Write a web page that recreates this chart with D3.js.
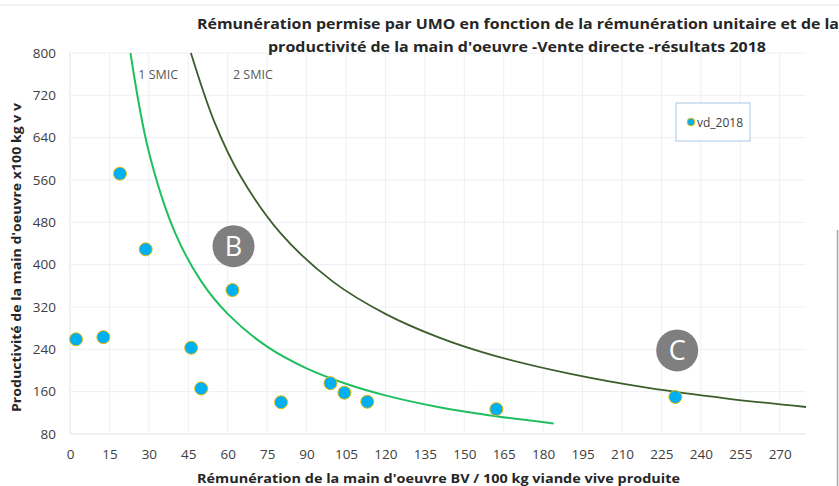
<!DOCTYPE html>
<html>
<head>
<meta charset="utf-8">
<script src="https://cdn.jsdelivr.net/npm/d3@7"></script>
<style>
  body { margin: 0; background: #fff; }
  svg { display: block; font-family: "Open Sans", sans-serif; }
</style>
</head>
<body>
<div id="chart"></div>
<script>
// data
var seriesName = "vd_2018";
var remuneration = [2.3, 12.7, 19.0, 28.8, 46.1, 49.9, 61.8, 80.3, 99.1, 104.4, 113.1, 162.2, 230.3];
var productivite = [259, 263, 572, 429, 243, 166, 352, 140, 176, 158, 141, 127, 150];

// iso-remuneration curves, points
var smic1X = [23, 30, 40, 50, 60, 75, 90, 105, 120, 140, 160, 184];
var smic1Y = [800, 613, 460, 368, 307, 245, 204, 175, 153, 131, 115, 100];
var smic2X = [46, 55, 65, 80, 100, 120, 140, 160, 190, 220, 250, 280];
var smic2Y = [800, 669, 566, 460, 368, 307, 263, 230, 194, 167, 147, 131];

var xTicks = d3.range(0, 271, 15);
var yTicks = [80, 160, 240, 320, 400, 480, 560, 640, 720, 800];

var svgWidth = 839;
var svgHeight = 486;
var margin = { top: 53, right: 33, bottom: 52, left: 70 };
var width = svgWidth - margin.left - margin.right;
var height = svgHeight - margin.top - margin.bottom;

var svg = d3.select("#chart")
  .append("svg")
  .attr("width", svgWidth)
  .attr("height", svgHeight);

// faint frame bits
svg.append("line")
  .attr("x1", 0).attr("x2", svgWidth)
  .attr("y1", 5).attr("y2", 5)
  .attr("stroke", "#e4e6ec").attr("stroke-width", 1);
svg.append("line")
  .attr("x1", 837.5).attr("x2", 837.5)
  .attr("y1", 230).attr("y2", svgHeight)
  .attr("stroke", "#a6a6a6").attr("stroke-width", 1.5);

var chartGroup = svg.append("g")
  .attr("transform", `translate(${margin.left}, ${margin.top})`);

var xScale = d3.scaleLinear().domain([0, 280]).range([0, width]);
var yScale = d3.scaleLinear().domain([80, 800]).range([height, 0]);

// gridlines
chartGroup.append("g")
  .selectAll("line")
  .data(yTicks)
  .enter()
  .append("line")
  .attr("x1", 0).attr("x2", width)
  .attr("y1", d => yScale(d)).attr("y2", d => yScale(d))
  .attr("stroke", d => d === 80 ? "#dfe3ea" : "#edf0f4")
  .attr("stroke-width", 1);

chartGroup.append("g")
  .selectAll("line")
  .data(xTicks)
  .enter()
  .append("line")
  .attr("x1", d => xScale(d)).attr("x2", d => xScale(d))
  .attr("y1", 0).attr("y2", height)
  .attr("stroke", d => d === 0 ? "#dfe3ea" : "#edf0f4")
  .attr("stroke-width", 1);

// axes (labels only)
var bottomAxis = d3.axisBottom(xScale).tickValues(xTicks).tickSize(0).tickPadding(15);
var leftAxis = d3.axisLeft(yScale).tickValues(yTicks).tickSize(0).tickPadding(14);

var xAxis = chartGroup.append("g")
  .attr("transform", `translate(0, ${height})`)
  .call(bottomAxis);
var yAxis = chartGroup.append("g").call(leftAxis);

[xAxis, yAxis].forEach(function(a) {
  a.select(".domain").remove();
  a.selectAll("text")
    .attr("font-family", "Open Sans, sans-serif")
    .attr("font-size", "13.5px")
    .attr("fill", "#404040");
});

// curves
var line = d3.line()
  .x(d => xScale(d[0]))
  .y(d => yScale(d[1]))
  .curve(d3.curveCatmullRom);

chartGroup.append("path")
  .datum(smic1X.map((v, i) => [v, smic1Y[i]]))
  .attr("d", line)
  .attr("fill", "none")
  .attr("stroke", "#1fbf5f")
  .attr("stroke-width", 2);

chartGroup.append("path")
  .datum(smic2X.map((v, i) => [v, smic2Y[i]]))
  .attr("d", line)
  .attr("fill", "none")
  .attr("stroke", "#3b5e2b")
  .attr("stroke-width", 1.8);

// SMIC labels
chartGroup.append("text")
  .attr("x", xScale(26)).attr("y", yScale(750))
  .attr("font-size", "12.5px").attr("fill", "#595959")
  .text("1 SMIC");
chartGroup.append("text")
  .attr("x", xScale(62)).attr("y", yScale(750))
  .attr("font-size", "12.5px").attr("fill", "#595959")
  .text("2 SMIC");

// points
chartGroup.selectAll("circle.pt")
  .data(remuneration)
  .enter()
  .append("circle")
  .attr("class", "pt")
  .attr("cx", d => xScale(d))
  .attr("cy", (d, i) => yScale(productivite[i]))
  .attr("r", 6.5)
  .attr("fill", "#00b0f0")
  .attr("stroke", "#e6b800")
  .attr("stroke-width", 1);

// B and C badges
var badges = [["B", 62.2, 435], ["C", 231, 238]];
badges.forEach(function(b) {
  var g = chartGroup.append("g")
    .attr("transform", `translate(${xScale(b[1])}, ${yScale(b[2])})`);
  g.append("circle").attr("r", 21).attr("fill", "#7f7f7f");
  g.append("text")
    .attr("text-anchor", "middle")
    .attr("dy", "0.36em")
    .attr("font-size", "27px")
    .attr("fill", "#fff")
    .text(b[0]);
});

// legend
var legend = svg.append("g").attr("transform", "translate(676, 103)");
legend.append("rect")
  .attr("width", 74).attr("height", 38)
  .attr("fill", "#fff")
  .attr("stroke", "#a9c8e6").attr("stroke-width", 1);
legend.append("circle")
  .attr("cx", 15).attr("cy", 19).attr("r", 3.8)
  .attr("fill", "#00b0f0").attr("stroke", "#e6b800").attr("stroke-width", 1);
legend.append("text")
  .attr("x", 21).attr("y", 23.5)
  .attr("font-size", "12px").attr("fill", "#404040")
  .text(seriesName);

// titles
svg.append("text")
  .attr("x", 197).attr("y", 29)
  .attr("font-weight", "bold").attr("font-size", "14px")
  .attr("fill", "#262626")
  .attr("textLength", 642).attr("lengthAdjust", "spacingAndGlyphs")
  .text("Rémunération permise par UMO en fonction de la rémunération unitaire et de la");
svg.append("text")
  .attr("x", 268).attr("y", 52)
  .attr("font-weight", "bold").attr("font-size", "14px")
  .attr("fill", "#262626")
  .attr("textLength", 498).attr("lengthAdjust", "spacingAndGlyphs")
  .text("productivité de la main d'oeuvre -Vente directe -résultats 2018");

svg.append("text")
  .attr("x", 197).attr("y", 483)
  .attr("font-weight", "bold").attr("font-size", "13px")
  .attr("fill", "#262626")
  .attr("textLength", 483).attr("lengthAdjust", "spacingAndGlyphs")
  .text("Rémunération de la main d'oeuvre BV / 100 kg viande vive produite");

svg.append("text")
  .attr("transform", "translate(21, 412) rotate(-90)")
  .attr("font-weight", "bold").attr("font-size", "13px")
  .attr("fill", "#262626")
  .attr("textLength", 309).attr("lengthAdjust", "spacingAndGlyphs")
  .text("Productivité de la main d'oeuvre x100 kg v v");
</script>
</body>
</html>
